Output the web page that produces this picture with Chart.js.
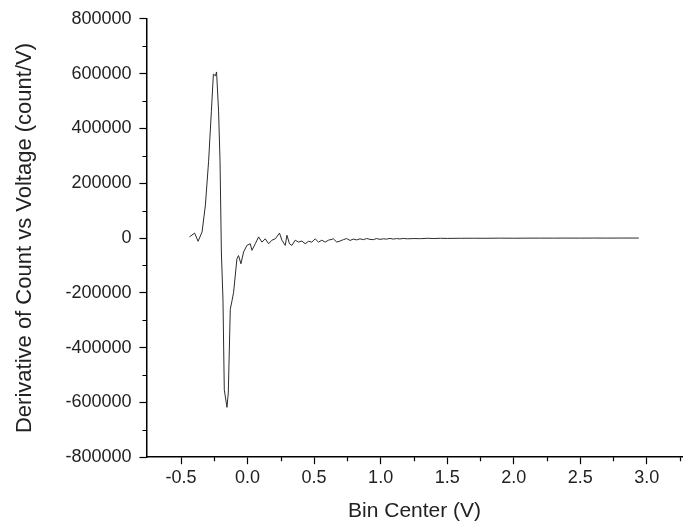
<!DOCTYPE html>
<html lang="en">
<head>
<meta charset="UTF-8">
<title>Derivative of Count vs Voltage</title>
<script src="https://cdn.jsdelivr.net/npm/chart.js"></script>
<style>
  html, body { margin: 0; padding: 0; background: #fff; }
  #wrap { width: 683px; height: 524px; }
</style>
</head>
<body>
<div id="wrap"><canvas id="derivChart"></canvas></div>
<script>
// bin centre (V) and derivative (count/V)
const binCenter = [
  -0.437, -0.398, -0.372, -0.342, -0.317, -0.293, -0.272, -0.257, -0.242, -0.233,
  -0.218, -0.207, -0.197, -0.185, -0.175, -0.155, -0.145, -0.130, -0.117, -0.105,
  -0.080, -0.068, -0.050, -0.030, -0.005, 0.020, 0.033, 0.058, 0.083, 0.108,
  0.133, 0.158, 0.183, 0.208, 0.240, 0.258, 0.283, 0.296, 0.315, 0.333,
  0.358, 0.383, 0.408, 0.433, 0.458, 0.483, 0.508, 0.533, 0.558, 0.583,
  0.608, 0.645, 0.671, 0.695, 0.720, 0.745, 0.770, 0.795, 0.820, 0.845,
  0.870, 0.895, 0.920, 0.945, 0.970, 0.995, 1.020, 1.045, 1.070, 1.095,
  1.120, 1.145, 1.170, 1.200, 1.250, 1.300, 1.350, 1.400, 1.450, 1.500,
  1.600, 1.700, 1.800, 1.900, 2.000, 2.100, 2.200, 2.300, 2.400, 2.500,
  2.600, 2.700, 2.800, 2.940
];
const derivative = [
  4000, 18000, -12000, 22000, 120000, 280000, 463000, 598000, 592000, 606000,
  463000, 280000, -51000, -223000, -554000, -618000, -566000, -260000, -229000, -198000,
  -76000, -64000, -94000, -51000, -27000, -21000, -45000, -21000, 4000, -15000,
  -3000, -21000, -8000, -3000, 18000, -8000, -27000, 10000, -21000, -27000,
  -8000, -15000, -11000, -21000, -12000, -15000, -3000, -15000, -8000, -15000,
  -8000, -3000, -15000, -11000, -6000, -2000, -9000, -4000, -7000, -3000,
  -6000, -2000, -5000, -6000, -2000, -5000, -3000, -4000, -1500, -4000,
  -2000, -3500, -1500, -3000, -2000, -2500, -1000, -2000, -1000, -1500,
  -1000, -800, -1000, -500, -800, -500, -400, -500, -300, -400,
  -200, -300, -200, -200
];

const xTicks = [-0.5, -0.25, 0, 0.25, 0.5, 0.75, 1, 1.25, 1.5, 1.75, 2, 2.25, 2.5, 2.75, 3, 3.25];
const xLabelled = [-0.5, 0, 0.5, 1, 1.5, 2, 2.5, 3];
const yTicks = [-800000, -700000, -600000, -500000, -400000, -300000, -200000, -100000, 0,
  100000, 200000, 300000, 400000, 500000, 600000, 700000, 800000];
const yLabelled = [-800000, -600000, -400000, -200000, 0, 200000, 400000, 600000, 800000];

const points = binCenter.map((x, i) => ({ x: x, y: derivative[i] }));

// short minor ticks for the unlabelled positions
const minorTicks = {
  id: 'minorTicks',
  afterDraw(chart) {
    const c = chart.ctx;
    const xs = chart.scales.x, ys = chart.scales.y;
    c.save();
    c.strokeStyle = '#000';
    c.lineWidth = 1.2;
    c.beginPath();
    xTicks.filter(v => !xLabelled.includes(v)).forEach(v => {
      const px = Math.round(xs.getPixelForValue(v)) + 0.5;
      c.moveTo(px, xs.top);
      c.lineTo(px, xs.top + 4);
    });
    yTicks.filter(v => !yLabelled.includes(v)).forEach(v => {
      const py = Math.round(ys.getPixelForValue(v)) + 0.5;
      c.moveTo(ys.right, py);
      c.lineTo(ys.right - 4, py);
    });
    c.stroke();
    c.restore();
  }
};

const font = 'Liberation Sans, Arial, sans-serif';

new Chart(document.getElementById('derivChart'), {
  type: 'line',
  data: {
    datasets: [{
      data: points,
      borderColor: '#2b2b2b',
      borderWidth: 1,
      pointRadius: 0,
      tension: 0,
      fill: false
    }]
  },
  options: {
    responsive: true,
    maintainAspectRatio: false,
    animation: false,
    layout: { padding: { top: 10, right: 0, left: 12, bottom: 0 } },
    plugins: { legend: { display: false }, tooltip: { enabled: false } },
    scales: {
      x: {
        type: 'linear',
        min: -0.76,
        max: 3.27,
        afterBuildTicks: s => { s.ticks = xTicks.map(v => ({ value: v })); },
        ticks: {
          autoSkip: false,
          maxRotation: 0,
          padding: 3,
          color: '#222',
          font: { family: font, size: 18 },
          callback: v => xLabelled.includes(v) ? v.toFixed(1) : ''
        },
        grid: {
          drawOnChartArea: false,
          tickLength: 7,
          tickWidth: 1.2,
          tickColor: ctx => xLabelled.includes(ctx.tick.value) ? '#000' : 'rgba(0,0,0,0)'
        },
        border: { display: true, color: '#000', width: 1.5 },
        title: {
          display: true,
          text: 'Bin Center (V)',
          color: '#222',
          font: { family: font, size: 21 },
          padding: { top: 7, bottom: 0 }
        }
      },
      y: {
        min: -800000,
        max: 800000,
        afterBuildTicks: s => { s.ticks = yTicks.map(v => ({ value: v })); },
        ticks: {
          autoSkip: false,
          padding: 8,
          color: '#222',
          font: { family: font, size: 18 },
          callback: v => yLabelled.includes(v) ? String(v) : ''
        },
        grid: {
          drawOnChartArea: false,
          tickLength: 7,
          tickWidth: 1.2,
          tickColor: ctx => yLabelled.includes(ctx.tick.value) ? '#000' : 'rgba(0,0,0,0)'
        },
        border: { display: true, color: '#000', width: 1.5 },
        title: {
          display: true,
          text: 'Derivative of Count vs Voltage (count/V)',
          color: '#222',
          font: { family: font, size: 22 },
          padding: { top: 0, bottom: 19 }
        }
      }
    }
  },
  plugins: [minorTicks]
});
</script>
</body>
</html>
